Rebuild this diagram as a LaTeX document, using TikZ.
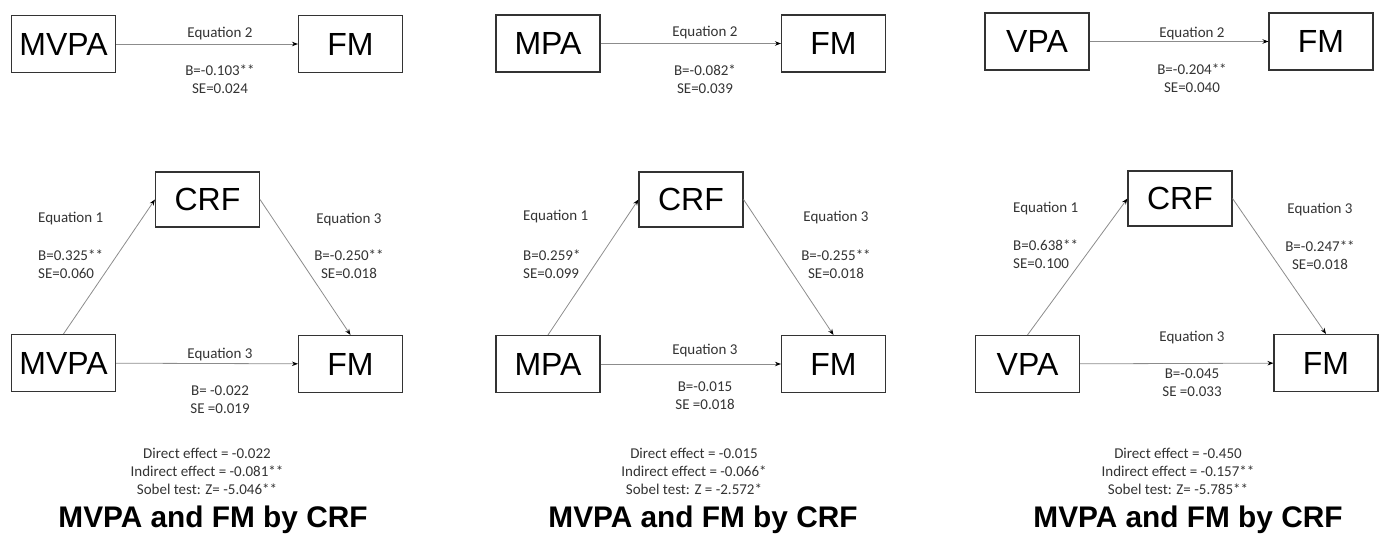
\documentclass[tikz,border=0pt]{standalone}
\usepackage{fontspec}
\setmainfont{Liberation Sans}
\newfontfamily\calib{Carlito}
\usetikzlibrary{positioning,arrows.meta}

\begin{document}
\begin{tikzpicture}[
		x=1pt, y=-1pt,
		box/.style={draw=black!80, line width=1.1pt, minimum width=104pt, minimum height=57pt, inner sep=0pt, font=\fontsize{32}{32}\selectfont},
		> = {Stealth[length=6pt,width=4.5pt,black]},
		link/.style={draw=black!45, line width=0.8pt},
		eq/.style={inner sep=0pt, text=black!80, font=\calib\fontsize{15}{18}\selectfont, align=center},
		lefteq/.style={eq, anchor=west, align=left},
		headline/.style={inner sep=0pt, font=\bfseries\fontsize{29.8}{30}\selectfont}
		]
		\useasboundingbox (0,0) rectangle (1381,538);

		% first panel
		\node[box] at (63.5,44) (mvpaT) {MVPA};
		\node[box] at (350.5,44) (fmT1) {FM};
		\node[box, minimum height=55pt] at (207.5,199.5) (crf1) {CRF};
		\node[box] at (63.5,363) (mvpaB) {MVPA};
		\node[box] at (350.5,364) (fmB1) {FM};
		\path[->] (mvpaT) edge[link] (fmT1)
		(mvpaB.north) edge[link] (crf1.west)
		(crf1.east) edge[link] (fmB1.north)
		(mvpaB) edge[link] (fmB1);
		\node[eq] at (220,34) (eqA1) {Equation 2};
		\node[eq] at (220,79) (resA1) {B=-0.103**\\SE=0.024};
		\node[lefteq] at (38,219) (eqA2) {Equation 1};
		\node[lefteq] at (38,264) (resA2) {B=0.325**\\SE=0.060};
		\node[eq] at (349,220) (eqA3) {Equation 3};
		\node[eq] at (349,264) (resA3) {B=-0.250**\\SE=0.018};
		\node[eq] at (220,355) (eqA4) {Equation 3};
		\node[eq] at (220,400) (resA4) {B= -0.022\\SE =0.019};
		\node[eq] at (207,471) (sumA) {Direct effect = -0.022\\Indirect effect = -0.081**\\Sobel test: Z= -5.046**};
		\node[headline] at (213,520) (titleA) {MVPA and FM by CRF};

		% second panel
		\node[box] at (548,43.5) (mpaT) {MPA};
		\node[box] at (833.5,43.5) (fmT2) {FM};
		\node[box, minimum height=55pt] at (691,199.5) (crf2) {CRF};
		\node[box] at (548,364) (mpaB) {MPA};
		\node[box] at (833.5,364) (fmB2) {FM};
		\path[->] (mpaT) edge[link] (fmT2)
		(mpaB.north) edge[link] (crf2.west)
		(crf2.east) edge[link] (fmB2.north)
		(mpaB) edge[link] (fmB2);
		\node[eq] at (705,33) (eqB1) {Equation 2};
		\node[eq] at (705,79) (resB1) {B=-0.082*\\SE=0.039};
		\node[lefteq] at (523,217) (eqB2) {Equation 1};
		\node[lefteq] at (523,264) (resB2) {B=0.259*\\SE=0.099};
		\node[eq] at (836,218) (eqB3) {Equation 3};
		\node[eq] at (836,264) (resB3) {B=-0.255**\\SE=0.018};
		\node[eq] at (705,351) (eqB4) {Equation 3};
		\node[eq] at (705,395.5) (resB4) {B=-0.015\\SE =0.018};
		\node[eq] at (694,471) (sumB) {Direct effect = -0.015\\Indirect effect = -0.066*\\Sobel test: Z = -2.572*};
		\node[headline] at (703,520) (titleB) {MVPA and FM by CRF};

		% third panel
		\node[box] at (1037,41.5) (vpaT) {VPA};
		\node[box] at (1321,41.5) (fmT3) {FM};
		\node[box, minimum height=55pt] at (1180,198.5) (crf3) {CRF};
		\node[box] at (1027.5,364) (vpaB) {VPA};
		\node[box] at (1326,363) (fmB3) {FM};
		\path[->] (vpaT) edge[link] (fmT3)
		(vpaB.north) edge[link] (crf3.west)
		(crf3.east) edge[link] (fmB3.north)
		(vpaB) edge[link] (fmB3);
		\node[eq] at (1192,34) (eqC1) {Equation 2};
		\node[eq] at (1192,78.5) (resC1) {B=-0.204**\\SE=0.040};
		\node[lefteq] at (1013,209) (eqC2) {Equation 1};
		\node[lefteq] at (1013,254) (resC2) {B=0.638**\\SE=0.100};
		\node[eq] at (1320,210) (eqC3) {Equation 3};
		\node[eq] at (1320,255) (resC3) {B=-0.247**\\SE=0.018};
		\node[eq] at (1192,338) (eqC4) {Equation 3};
		\node[eq] at (1192,383) (resC4) {B=-0.045\\SE =0.033};
		\node[eq] at (1178,471) (sumC) {Direct effect = -0.450\\Indirect effect = -0.157**\\Sobel test: Z= -5.785**};
		\node[headline] at (1188,520) (titleC) {MVPA and FM by CRF};
	\end{tikzpicture}
\end{document}
